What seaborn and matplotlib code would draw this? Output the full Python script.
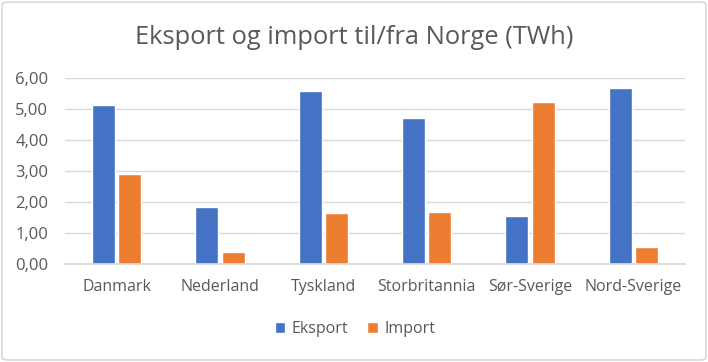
import matplotlib
matplotlib.use("Agg")
import matplotlib.pyplot as plt
import seaborn as sns
import pandas as pd
from matplotlib.patches import FancyBboxPatch

categories = ["Danmark", "Nederland", "Tyskland", "Storbritannia", "Sør-Sverige", "Nord-Sverige"]
eksport = [5.11, 1.84, 5.56, 4.70, 1.53, 5.65]
importv = [2.88, 0.38, 1.63, 1.66, 5.22, 0.54]
series = ["Eksport", "Import"]
yticks = [0, 1, 2, 3, 4, 5, 6]

df = pd.DataFrame({
    "land": categories * 2,
    "verdi": eksport + importv,
    "serie": [series[0]] * len(categories) + [series[1]] * len(categories),
})

sns.set_theme(style="white")
plt.rcParams["font.family"] = ["Open Sans", "DejaVu Sans"]
txt = "#595959"

fig = plt.figure(figsize=(7.08, 3.62), dpi=100)
ax = fig.add_axes([65/708, 1 - 264/362, 620/708, (264-77.5)/362])

sns.barplot(data=df, x="land", y="verdi", hue="serie", order=categories,
            hue_order=series, palette=["#4472C4", "#ED7D31"],
            width=0.51, gap=0.13, saturation=1, ax=ax, legend=True)

ax.set_ylim(0, 6)
ax.set_yticks(yticks)
ax.set_yticklabels([f"{v:.2f}".replace(".", ",") for v in yticks])
ax.yaxis.grid(True, color="#D9D9D9", linewidth=1)
ax.set_axisbelow(True)
for s in ["left", "right", "top"]:
    ax.spines[s].set_visible(False)
ax.spines["bottom"].set_color("#D9D9D9")
ax.set_xlabel("")
ax.set_ylabel("")
ax.tick_params(axis="both", length=0, colors=txt)
ax.tick_params(axis="x", labelsize=11.5, pad=11)
ax.tick_params(axis="y", labelsize=12, pad=12)

fig.text(354/708, 1 - 38/362, "Eksport og import til/fra Norge (TWh)",
         ha="center", va="center", fontsize=18.4, color=txt)

leg = ax.legend(loc="center", bbox_to_anchor=(355/708, 1 - 329/362),
                bbox_transform=fig.transFigure, ncol=2, frameon=False,
                fontsize=11.5, handlelength=0.65, handleheight=0.65,
                handletextpad=0.4, columnspacing=1.2)
for t in leg.get_texts():
    t.set_color(txt)

border = FancyBboxPatch((2/708, 2/362), 704/708, 358/362,
                        boxstyle="round,pad=0,rounding_size=0.008",
                        transform=fig.transFigure, fill=False,
                        edgecolor="#D0D0D0", linewidth=1)
fig.patches.append(border)

fig.savefig("out.png", dpi=100)
